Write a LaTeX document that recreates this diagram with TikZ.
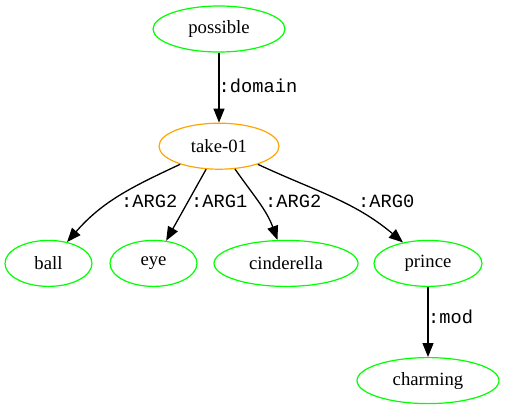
\documentclass[tikz,border=0pt]{standalone}
\usepackage{fontspec}
\setmainfont{Liberation Serif}
\setmonofont{Liberation Mono}
\usetikzlibrary{shapes.geometric, arrows.meta, positioning}

\definecolor{amrgreen}{RGB}{0,255,0}
\definecolor{amrorange}{HTML}{FFA500}

\tikzset{
  concept/.style={ellipse, draw=amrgreen, line width=1.2pt, inner sep=0pt,
    minimum height=46pt, font=\fontsize{18.7}{20}\selectfont},
  root/.style={concept, draw=amrorange},
  role/.style={anchor=base west, inner sep=0pt,
    font=\ttfamily\fontsize{18.7}{20}\selectfont},
  rel/.style={-{Triangle[length=14pt, width=11pt]}, line width=1.3pt},
}

\begin{document}
\begin{tikzpicture}[x=1pt, y=1pt, node distance=70pt]
    \useasboundingbox (0,0) rectangle (505,-407);
    % concepts
    \node [concept, minimum width=132pt] (possible) at (219,-29) {possible};
    \node [root, minimum width=120pt, below=of possible] (take) {take-01};
    \node [concept, minimum width=87pt, below=of take, xshift=-170.5pt] (ball) {ball};
    \node [concept, minimum width=87pt, below=of take, xshift=-65.5pt] (eye) {eye};
    \node [concept, minimum width=144pt, below=of take, xshift=67pt] (cinderella) {cinderella};
    \node [concept, minimum width=108pt, below=of take, xshift=209pt] (prince) {prince};
    \node [concept, minimum width=142pt, below=of prince] (charming) {charming};
    % relations
    \draw [rel] (possible) -- (take);
    \draw [rel] (take) to[out=205, in=49] (ball);
    \draw [rel] (take) -- (eye);
    \draw [rel] (take) to[out=-55, in=110] (cinderella);
    \draw [rel] (take) to[out=-25, in=140] (prince);
    \draw [rel] (prince) -- (charming);
    % role labels
    \node [role] (domainlbl) at (218.5,-92) {:domain};
    \node [role] (arg2ball) at (121,-207.5) {:ARG2};
    \node [role] (arg1eye) at (191,-207.5) {:ARG1};
    \node [role] (arg2cind) at (265,-207.5) {:ARG2};
    \node [role] (arg0prince) at (358,-207.5) {:ARG0};
    \node [role] (modlbl) at (428,-323) {:mod};
\end{tikzpicture}
\end{document}
